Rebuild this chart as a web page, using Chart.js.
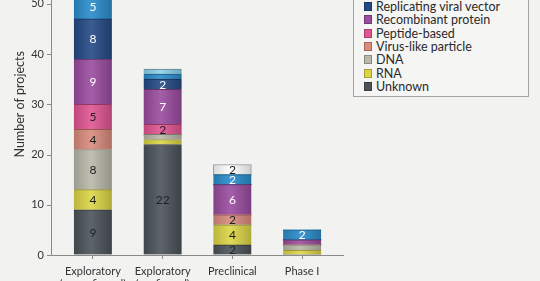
<!DOCTYPE html>
<html>
<head>
<meta charset="utf-8">
<script src="https://cdn.jsdelivr.net/npm/chart.js@4.4.1/dist/chart.umd.min.js"></script>
<style>
  body { margin: 0; background: #f2f2f1; width: 540px; height: 281px; overflow: hidden; position: relative; }
  #wrap { position: absolute; left: 0; top: -67px; width: 540px; height: 360px; }
  #legend { position: absolute; left: 353px; top: -12px; width: 174px; padding: 11px 0 3px 0;
            border: 1px solid #a3a3a3; background: #f5f5f4; font-family: Lato, sans-serif; font-size: 12.5px; color: #2a2a2a; }
  #legend div { height: 13.33px; line-height: 13.33px; white-space: nowrap; position: relative; padding-left: 22px; }
  #legend span { position: absolute; left: 10px; top: 2px; width: 8px; height: 9px; box-sizing: border-box; border: 1px solid rgba(0,0,0,0.25); }
</style>
</head>
<body>
<div id="wrap"><canvas id="chart" width="540" height="360"></canvas></div>
<div id="legend"></div>
<script>
// Projeler: aşama x platform (alttan üste yığılı)
const stages = [['Exploratory', '(unconfirmed)'], ['Exploratory', '(confirmed)'], 'Preclinical', 'Phase I'];
const unknown        = [9, 22, 2, 0];
const rna            = [4, 1, 4, 1];
const dna            = [8, 1, 0, 1];
const vlp            = [4, 0, 2, 0];
const peptide        = [5, 2, 0, 0];
const recombinant    = [9, 7, 6, 1];
const replicating    = [8, 2, 0, 0];
const nonReplicating = [5, 1, 2, 2];
const inactivated    = [0, 1, 0, 0];
const liveAttenuated = [0, 0, 2, 0];
const yTicks = [0, 10, 20, 30, 40, 50, 60];

const series = [
  { label: 'Unknown', data: unknown, color: '#4b5359', text: '#1e2226' },
  { label: 'RNA', data: rna, color: '#dcd647', text: '#1e1e1e' },
  { label: 'DNA', data: dna, color: '#b9b8a9', text: '#1e1e1e' },
  { label: 'Virus-like particle', data: vlp, color: '#d98b7d', text: '#1e1e1e' },
  { label: 'Peptide-based', data: peptide, color: '#e15592', text: '#1e1e1e' },
  { label: 'Recombinant protein', data: recombinant, color: '#9a4c9f', text: '#ffffff' },
  { label: 'Replicating viral vector', data: replicating, color: '#244a85', text: '#ffffff' },
  { label: 'Non-replicating viral vector', data: nonReplicating, color: '#2a8dcc', text: '#ffffff' },
  { label: 'Inactivated virus', data: inactivated, color: '#8fd0e8', text: '#1e1e1e' },
  { label: 'Live attenuated virus', data: liveAttenuated, color: '#ffffff', text: '#1e1e1e' }
];

function shade(hex, amt) {
  const n = parseInt(hex.slice(1), 16);
  let r = n >> 16, g = (n >> 8) & 255, b = n & 255;
  const t = amt < 0 ? 0 : 255, p = Math.abs(amt);
  r = Math.round(r + (t - r) * p); g = Math.round(g + (t - g) * p); b = Math.round(b + (t - b) * p);
  return 'rgb(' + r + ',' + g + ',' + b + ')';
}

const BAR_W = 38;

// silindir görünümü için yatay gradyan
function barFill(base) {
  return function (c) {
    if (c.type !== 'data' || !c.chart.chartArea) return base;
    const cx = c.chart.scales.x.getPixelForValue(c.dataIndex);
    const g = c.chart.ctx.createLinearGradient(cx - BAR_W / 2, 0, cx + BAR_W / 2, 0);
    g.addColorStop(0, shade(base, -0.15));
    g.addColorStop(0.45, base === '#ffffff' ? base : shade(base, 0.1));
    g.addColorStop(1, shade(base, -0.2));
    return g;
  };
}

const axisLines = {
  id: 'axisLines',
  afterDatasetsDraw(chart) {
    const { ctx, chartArea: a, scales: { y } } = chart;
    const ax = a.left - 7 + 0.5, by = a.bottom + 0.5;
    ctx.save();
    ctx.strokeStyle = '#8a8a8a';
    ctx.lineWidth = 1;
    ctx.beginPath();
    ctx.moveTo(ax, a.top); ctx.lineTo(ax, by);
    ctx.lineTo(a.right + 7, by);
    y.ticks.forEach(t => {
      const py = Math.round(y.getPixelForValue(t.value)) + 0.5;
      ctx.moveTo(ax - 4.5, py); ctx.lineTo(ax, py);
    });
    ctx.stroke();
    ctx.restore();
  }
};

const segLabels = {
  id: 'segLabels',
  afterDatasetsDraw(chart) {
    const ctx = chart.ctx;
    ctx.save();
    ctx.font = '12px Lato, sans-serif';
    ctx.textAlign = 'center';
    ctx.textBaseline = 'middle';
    chart.data.datasets.forEach((ds, i) => {
      chart.getDatasetMeta(i).data.forEach((el, j) => {
        const v = ds.data[j];
        if (v < 2) return;
        const p = el.getProps(['x', 'y', 'base'], true);
        ctx.fillStyle = series[i].text;
        ctx.fillText(String(v), p.x, (p.y + p.base) / 2 + 0.5);
      });
    });
    ctx.restore();
  }
};

Chart.defaults.font.family = 'Lato, sans-serif';
Chart.defaults.color = '#333';

new Chart(document.getElementById('chart'), {
  type: 'bar',
  data: {
    labels: stages,
    datasets: series.map(s => ({
      label: s.label,
      data: s.data,
      backgroundColor: barFill(s.color),
      borderColor: s.color === '#ffffff' ? '#9a9a9a' : shade(s.color, -0.35),
      borderWidth: s.color === '#ffffff' ? 1 : { top: 1, left: 0, right: 0, bottom: 0 },
      borderSkipped: s.color === '#ffffff' ? false : 'start',
      barThickness: BAR_W
    }))
  },
  options: {
    responsive: false,
    animation: false,
    devicePixelRatio: 1,
    layout: { padding: { left: 0, right: 203, top: 7, bottom: 0 } },
    plugins: { legend: { display: false }, tooltip: { enabled: false } },
    scales: {
      x: {
        stacked: true,
        grid: { offset: false, drawOnChartArea: false, tickLength: 4, color: '#8a8a8a' },
        border: { display: false },
        ticks: { font: { size: 11 }, padding: 6, color: '#333', maxRotation: 0 },
        afterFit: s => { s.height = 38; }
      },
      y: {
        stacked: true,
        min: 0, max: 60,
        afterBuildTicks: s => { s.ticks = yTicks.map(v => ({ value: v })); },
        grid: { drawOnChartArea: false, drawTicks: false },
        border: { display: false },
        ticks: { font: { size: 11 }, padding: 14, color: '#333' },
        title: { display: true, text: 'Number of projects', font: { size: 12.5 }, color: '#333', padding: { top: 12 } },
        afterFit: s => { s.width = 58; }
      }
    }
  },
  plugins: [axisLines, segLabels]
});

// HTML açıklama: görünen kısım (üst kalemler kırpılmış)
const legendEl = document.getElementById('legend');
series.slice(0, 7).reverse().forEach(s => {
  const row = document.createElement('div');
  const sw = document.createElement('span');
  sw.style.background = s.color;
  row.appendChild(sw);
  row.appendChild(document.createTextNode(s.label));
  legendEl.appendChild(row);
});
</script>
</body>
</html>
